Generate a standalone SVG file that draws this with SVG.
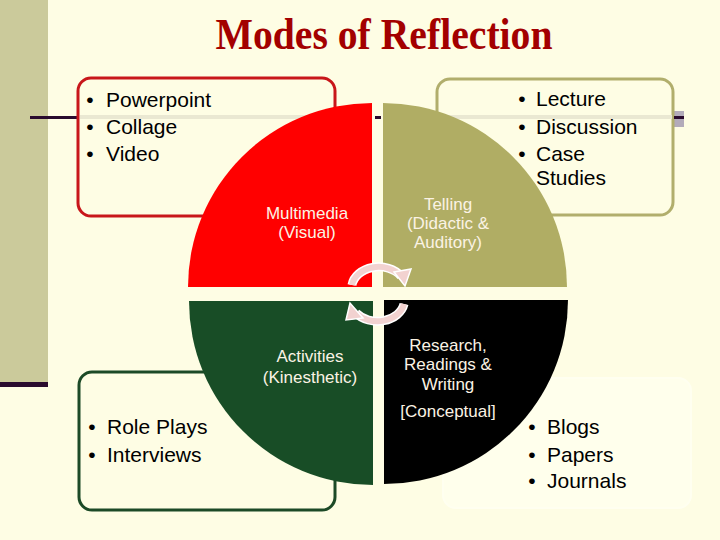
<svg xmlns="http://www.w3.org/2000/svg" width="720" height="540" viewBox="0 0 720 540">
<style>
.bt{font-family:"Liberation Sans",Arial,sans-serif;font-size:21px;fill:#000}
.bu{font-family:"Liberation Sans",Arial,sans-serif;font-size:21px;fill:#000;text-anchor:middle}
.lb{font-family:"Liberation Sans",Arial,sans-serif;font-size:17px;fill:#FBF3E4;text-anchor:middle}
.box{fill:#FEFDE4;stroke-width:3}
.arcw{fill:none;stroke:#FFFFFF;stroke-width:9}
.arcp{fill:none;stroke:#F2D2D0;stroke-width:6}
</style>
<rect x="0" y="0" width="720" height="540" fill="#FEFDE4"/>
<rect x="0" y="0" width="48" height="383" fill="#CBCA9B"/>
<rect x="0" y="382" width="48" height="5" fill="#2A0B2E"/>
<g id="line">
<rect x="30" y="116" width="48" height="3" fill="#2A0B2E"/>
<rect x="674" y="111" width="10" height="16" fill="#B3ABBA"/>
</g>
<text x="384" y="49" font-family="'Liberation Serif','Times New Roman',serif" font-weight="bold" font-size="44" fill="#A30000" text-anchor="middle" textLength="337" lengthAdjust="spacingAndGlyphs">Modes of Reflection</text>
<g id="box-multimedia">
<rect class="box" x="78" y="78" width="257" height="138" rx="13" stroke="#C8161A"/>
<rect x="80" y="115" width="254" height="4" fill="#EAE8D2"/>
<text class="bu" x="90" y="107">•</text><text class="bt" x="106" y="107">Powerpoint</text>
<text class="bu" x="90" y="134">•</text><text class="bt" x="106" y="134">Collage</text>
<text class="bu" x="90" y="161">•</text><text class="bt" x="106" y="161">Video</text>
</g>
<g id="box-telling">
<rect class="box" x="437" y="79" width="236" height="136" rx="13" stroke="#B1AE6C"/>
<rect x="439" y="115" width="233" height="4" fill="#EAE8D2"/>
<text class="bu" x="522" y="106">•</text><text class="bt" x="536" y="106">Lecture</text>
<text class="bu" x="522" y="134">•</text><text class="bt" x="536" y="134">Discussion</text>
<text class="bu" x="522" y="161">•</text><text class="bt" x="536" y="161">Case</text>
<text class="bt" x="536" y="185">Studies</text>
</g>
<g id="box-activities">
<rect class="box" x="79" y="372" width="256" height="138" rx="13" stroke="#1C4A26"/>
<text class="bu" x="92" y="434">•</text><text class="bt" x="107" y="434">Role Plays</text>
<text class="bu" x="92" y="462">•</text><text class="bt" x="107" y="462">Interviews</text>
</g>
<g id="box-research">
<rect x="443" y="378" width="248" height="130" rx="13" fill="#FFFFEC" stroke="#FFFFF0" stroke-width="2"/>
<text class="bu" x="532" y="434">•</text><text class="bt" x="547" y="434">Blogs</text>
<text class="bu" x="532" y="462">•</text><text class="bt" x="547" y="462">Papers</text>
<text class="bu" x="532" y="488">•</text><text class="bt" x="547" y="488">Journals</text>
</g>
<g id="connectors">
<rect x="375" y="116" width="6" height="3" fill="#2A0B2E"/>
<rect x="674" y="116" width="10" height="3" fill="#2A0B2E"/>
</g>
<g id="q-multimedia">
<path d="M372,287 L372,103 A184,184 0 0 0 188,287 Z" fill="#FF0000"/>
<text class="lb" x="307" y="219">Multimedia</text>
<text class="lb" x="307" y="238">(Visual)</text>
</g>
<g id="q-telling">
<path d="M383,287 L567,287 A184,184 0 0 0 383,103 Z" fill="#B0AD64"/>
<text class="lb" x="448" y="210">Telling</text>
<text class="lb" x="448" y="229">(Didactic &amp;</text>
<text class="lb" x="448" y="248">Auditory)</text>
</g>
<g id="q-activities">
<path d="M373,301 L189,301 A184,184 0 0 0 373,485 Z" fill="#184D26"/>
<text class="lb" x="310" y="362">Activities</text>
<text class="lb" x="310" y="383">(Kinesthetic)</text>
</g>
<g id="q-research">
<path d="M384,300 L384,484 A184,184 0 0 0 568,300 Z" fill="#000000"/>
<text class="lb" x="448" y="351">Research,</text>
<text class="lb" x="448" y="370">Readings &amp;</text>
<text class="lb" x="448" y="390">Writing</text>
<text class="lb" x="448" y="417">[Conceptual]</text>
</g>
<g id="cycle">
<path class="arcw" d="M352,285 A27,21 0 0 1 401,276"/>
<path class="arcp" d="M352,285 A27,21 0 0 1 401,276"/>
<polygon points="394,272 411,269 405,286" fill="#F2D2D0" stroke="#FFFFFF" stroke-width="1.5"/>
<path class="arcw" d="M404,304 A27,21 0 0 1 356,313"/>
<path class="arcp" d="M404,304 A27,21 0 0 1 356,313"/>
<polygon points="363,318 346,320 350,303" fill="#F2D2D0" stroke="#FFFFFF" stroke-width="1.5"/>
</g>
</svg>
